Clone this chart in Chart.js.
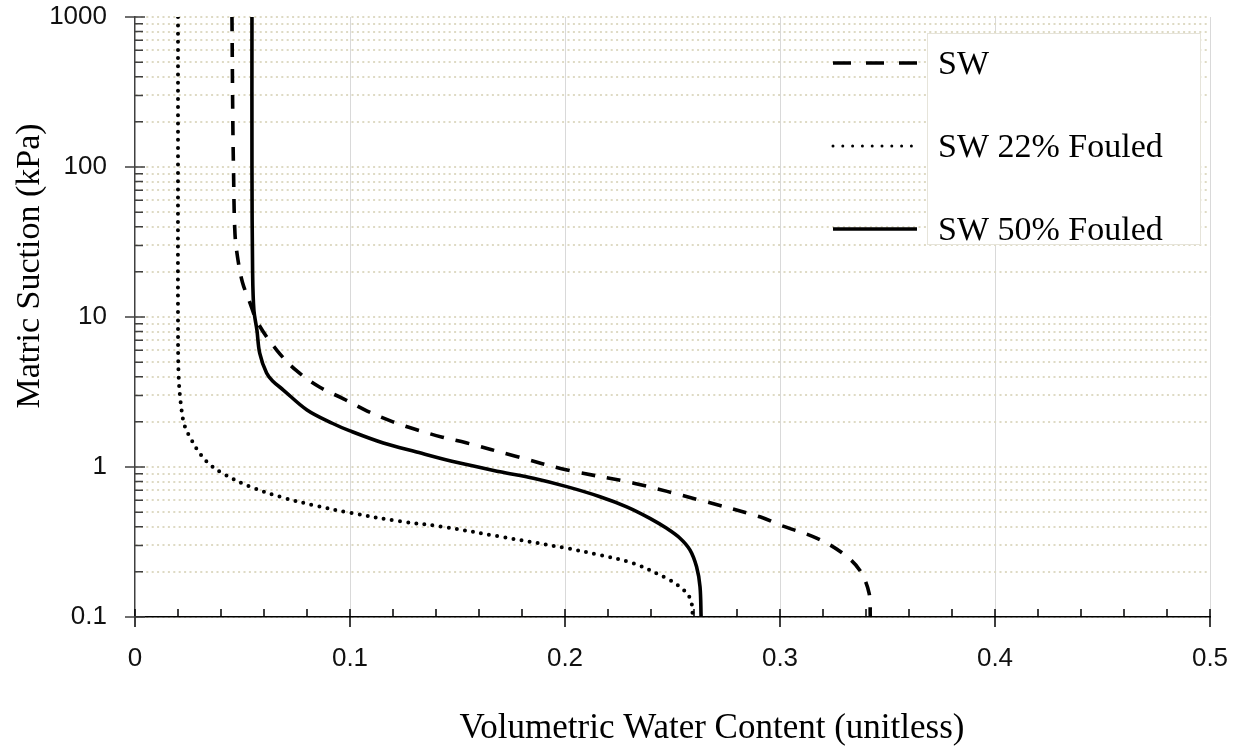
<!DOCTYPE html>
<html>
<head>
<meta charset="utf-8">
<title>Soil water characteristic curves</title>
<script src="https://cdn.jsdelivr.net/npm/chart.js@4.4.1/dist/chart.umd.min.js"></script>
<style>
  html, body { margin: 0; padding: 0; background: #fff; }
  canvas { display: block; background: #fff; }
</style>
</head>
<body>
<canvas id="swcc" width="1239" height="749"></canvas>
<script>
// volumetric water content vs matric suction (kPa)
const swTheta   = [0.0451, 0.0455, 0.0458, 0.0465, 0.0479, 0.050, 0.0535, 0.0572, 0.066, 0.075, 0.086, 0.097, 0.108, 0.120, 0.131, 0.143, 0.154, 0.177, 0.201, 0.232, 0.263, 0.291, 0.300, 0.317, 0.329, 0.337, 0.3414, 0.342];
const swSuction = [1000, 200, 100, 36, 24, 17, 12.4, 9.1, 6.0, 4.4, 3.4, 2.85, 2.36, 2.0, 1.77, 1.58, 1.45, 1.18, 0.955, 0.78, 0.60, 0.464, 0.41, 0.336, 0.267, 0.206, 0.145, 0.1];

const sw22Theta   = [0.020, 0.020, 0.020, 0.0203, 0.0215, 0.023, 0.0256, 0.030, 0.0345, 0.040, 0.0535, 0.068, 0.0845, 0.100, 0.123, 0.143, 0.170, 0.201, 0.2163, 0.2318, 0.2473, 0.2535, 0.2573, 0.2589, 0.2594];
const sw22Suction = [1000, 100, 10, 4, 2.5, 1.9, 1.58, 1.24, 1.05, 0.92, 0.74, 0.63, 0.55, 0.495, 0.435, 0.40, 0.343, 0.287, 0.259, 0.228, 0.181, 0.159, 0.14, 0.123, 0.1];

const sw50Theta   = [0.0544, 0.0544, 0.0547, 0.0553, 0.0567, 0.058, 0.0612, 0.064, 0.069, 0.080, 0.092, 0.100, 0.1155, 0.131, 0.150, 0.1698, 0.1853, 0.2008, 0.2163, 0.2287, 0.2395, 0.2473, 0.2535, 0.2581, 0.2612, 0.2628, 0.2633];
const sw50Suction = [1000, 100, 20, 11.1, 8.2, 5.75, 4.23, 3.75, 3.26, 2.4, 1.95, 1.74, 1.445, 1.26, 1.07, 0.93, 0.841, 0.74, 0.634, 0.543, 0.455, 0.39, 0.335, 0.28, 0.216, 0.159, 0.1];

const seriesLabels = ['SW', 'SW 22% Fouled', 'SW 50% Fouled'];
const xTickValues = [0, 0.1, 0.2, 0.3, 0.4, 0.5];
const yTickValues = [0.1, 1, 10, 100, 1000];
const xTitle = 'Volumetric Water Content (unitless)';
const yTitle = 'Matric Suction (kPa)';

function toPoints(xs, ys) {
  return xs.map((x, i) => ({ x: x, y: ys[i] }));
}

// 1..9 steps inside each decade for the dotted grid
const yGridValues = [];
yTickValues.forEach((v, i) => {
  if (i === yTickValues.length - 1) { yGridValues.push(v); return; }
  for (let m = 1; m < 10; m++) yGridValues.push(+(v * m).toPrecision(3));
});

const tickFont = { family: '"Liberation Sans", Arial, sans-serif', size: 26 };
const serif = '"Liberation Serif", "Times New Roman", serif';

// axis tick marks: majors cross the axis, minors sit inside
const axisMarks = {
  id: 'axisMarks',
  afterDraw(chart) {
    const { ctx, chartArea: a, scales: { x, y } } = chart;
    ctx.save();
    ctx.lineWidth = 1.5;
    ctx.strokeStyle = '#000';
    ctx.beginPath();
    for (let i = 0; i <= 25; i++) {
      const px = x.getPixelForValue(i / 50);
      const major = i % 5 === 0;
      ctx.moveTo(px, a.bottom - 8);
      ctx.lineTo(px, major ? a.bottom + 10 : a.bottom);
    }
    ctx.stroke();
    ctx.strokeStyle = '#404040';
    ctx.beginPath();
    yGridValues.forEach(v => {
      const py = y.getPixelForValue(v);
      const major = yTickValues.includes(v);
      ctx.moveTo(major ? a.left - 10 : a.left, py);
      ctx.lineTo(a.left + (major ? 10 : 8), py);
    });
    ctx.stroke();
    ctx.restore();
  }
};

const axisTitles = {
  id: 'axisTitles',
  afterDraw(chart) {
    const ctx = chart.ctx;
    ctx.save();
    ctx.fillStyle = '#000';
    ctx.font = '35px ' + serif;
    ctx.textAlign = 'center';
    ctx.textBaseline = 'alphabetic';
    ctx.fillText(xTitle, 712, 738);
    ctx.translate(39, 266);
    ctx.rotate(-Math.PI / 2);
    ctx.font = '34px ' + serif;
    ctx.fillText(yTitle, 0, 0);
    ctx.restore();
  }
};

// key box in the upper right, samples drawn with each dataset's own stroke
const seriesKey = {
  id: 'seriesKey',
  afterDatasetsDraw(chart) {
    const ctx = chart.ctx;
    const sampleDash = [[18, 15], [0, 9.8], []];
    ctx.save();
    ctx.fillStyle = '#fff';
    ctx.fillRect(927, 33, 273, 211);
    ctx.strokeStyle = '#e6e4da';
    ctx.lineWidth = 1;
    ctx.strokeRect(927.5, 33.5, 273, 211);
    chart.data.datasets.forEach((ds, i) => {
      const cy = 63 + i * 83;
      ctx.strokeStyle = ds.borderColor;
      ctx.lineWidth = i === 1 ? 3 : ds.borderWidth;
      ctx.lineCap = ds.borderCapStyle || 'butt';
      ctx.setLineDash(sampleDash[i]);
      ctx.beginPath();
      ctx.moveTo(833, cy);
      ctx.lineTo(917, cy);
      ctx.stroke();
      ctx.setLineDash([]);
      ctx.fillStyle = '#000';
      ctx.font = '34px ' + serif;
      ctx.textAlign = 'left';
      ctx.textBaseline = 'alphabetic';
      ctx.fillText(ds.label, 938, cy + 11);
    });
    ctx.restore();
  }
};

new Chart(document.getElementById('swcc'), {
  type: 'scatter',
  data: {
    datasets: [
      {
        label: seriesLabels[0],
        data: toPoints(swTheta, swSuction),
        borderColor: '#000',
        borderWidth: 3.6,
        borderDash: [14, 12],
        borderCapStyle: 'butt'
      },
      {
        label: seriesLabels[1],
        data: toPoints(sw22Theta, sw22Suction),
        borderColor: '#000',
        borderWidth: 4,
        borderDash: [0, 8.2],
        borderCapStyle: 'round'
      },
      {
        label: seriesLabels[2],
        data: toPoints(sw50Theta, sw50Suction),
        borderColor: '#000',
        borderWidth: 3.6,
        borderCapStyle: 'butt'
      }
    ]
  },
  options: {
    responsive: false,
    animation: false,
    showLine: true,
    elements: {
      point: { radius: 0, hoverRadius: 0 },
      line: { tension: 0.35, fill: false }
    },
    layout: { padding: { top: 17, right: 29, bottom: 0, left: 0 } },
    plugins: {
      legend: { display: false },
      tooltip: { enabled: false }
    },
    scales: {
      x: {
        type: 'linear',
        min: 0,
        max: 0.5,
        afterBuildTicks: s => { s.ticks = xTickValues.map(v => ({ value: v })); },
        afterFit: s => {
          s.height = 132;
          s.paddingLeft = 0;
          s.paddingRight = 0;
        },
        ticks: {
          autoSkip: false,
          maxRotation: 0,
          padding: 26,
          color: '#111',
          font: tickFont,
          callback: v => String(v)
        },
        grid: {
          drawTicks: false,
          color: c => (c.tick && c.tick.value === 0 ? 'rgba(0,0,0,0)' : '#d9d9d9'),
          lineWidth: 1
        },
        border: { display: true, color: '#000', width: 1.5 }
      },
      y: {
        type: 'logarithmic',
        min: 0.1,
        max: 1000,
        afterBuildTicks: s => { s.ticks = yGridValues.map(v => ({ value: v })); },
        afterFit: s => {
          s.width = 135;
          s.paddingTop = 0;
          s.paddingBottom = 0;
        },
        ticks: {
          autoSkip: false,
          padding: 28,
          color: '#111',
          font: tickFont,
          callback: v => (yTickValues.includes(v) ? String(v) : '')
        },
        grid: {
          drawTicks: false,
          color: '#dedac4',
          lineWidth: 2
        },
        border: { display: true, color: '#404040', width: 1.5, dash: [2, 3.4] }
      }
    }
  },
  plugins: [axisMarks, axisTitles, seriesKey]
});
</script>
</body>
</html>
